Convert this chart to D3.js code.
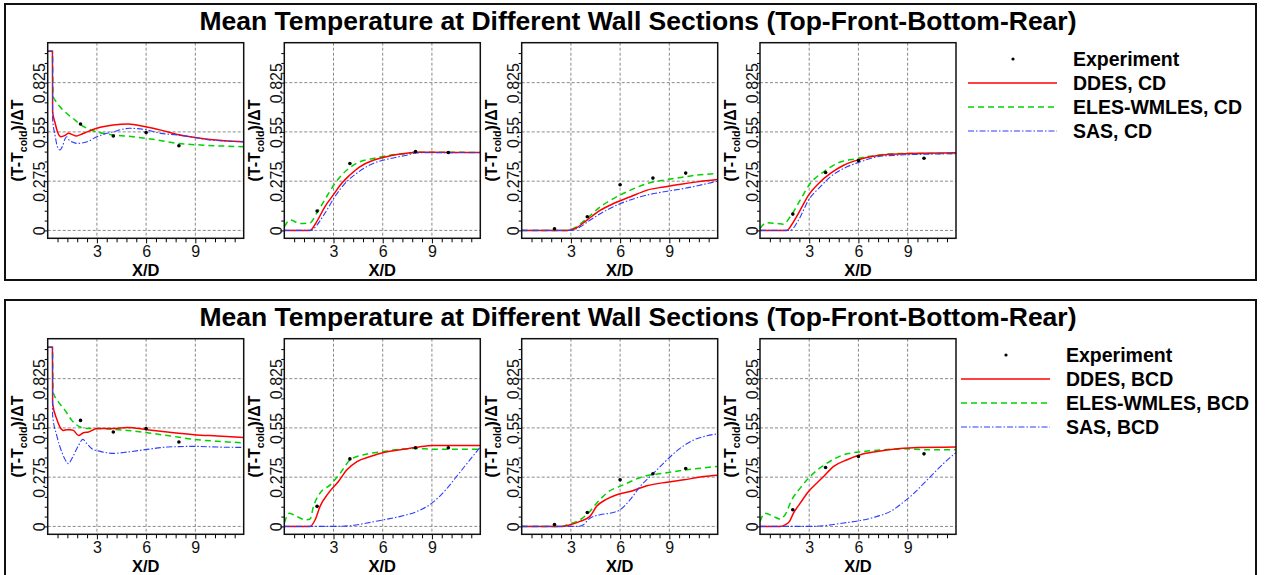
<!DOCTYPE html>
<html>
<head>
<meta charset="utf-8">
<title>Mean Temperature at Different Wall Sections</title>
<script src="https://cdn.jsdelivr.net/npm/d3@7"></script>
<style>
  body { margin: 0; background: #fff; }
  svg { font-family: "Liberation Sans", Arial, sans-serif; }
</style>
</head>
<body>
<script>
// ---- data (x = X/D, v = (T-Tcold)/dT) ----
// CD case
var cdTopExp = [[2,0.594],[4,0.527],[6,0.546],[8,0.473]];
var cdTopDdes = [[0,1.0],[0.29,1.0],[0.3,0.66],[0.45,0.6],[0.6,0.55],[0.82,0.523],[1.05,0.53],[1.27,0.542],[1.5,0.535],[1.73,0.527],[2.0,0.535],[2.4,0.55],[3,0.57],[4,0.588],[4.9,0.594],[5.9,0.58],[6.9,0.56],[7.9,0.536],[8.9,0.52],[9.9,0.508],[11.95,0.495]];
var cdTopEles = [[0,1.0],[0.29,1.0],[0.33,0.75],[0.5,0.72],[0.75,0.69],[1.2,0.65],[1.67,0.616],[2.0,0.59],[2.4,0.57],[3,0.55],[4,0.533],[5.2,0.523],[6.7,0.505],[7.9,0.486],[9.3,0.477],[11.95,0.467]];
var cdTopSas = [[0,1.0],[0.29,1.0],[0.3,0.62],[0.45,0.53],[0.6,0.465],[0.75,0.449],[0.9,0.47],[1.05,0.51],[1.16,0.523],[1.3,0.505],[1.47,0.495],[1.78,0.486],[2.1,0.488],[2.4,0.495],[3,0.523],[4,0.551],[5,0.57],[5.9,0.564],[6.9,0.542],[7.9,0.533],[8.9,0.52],[9.9,0.505],[11.95,0.495]];

var cdFrontExp = [[2,0.108],[4,0.374],[8,0.44],[10,0.435]];
var cdFrontDdes = [[0,0],[1.57,0],[1.97,0.048],[2.47,0.132],[2.98,0.197],[3.49,0.262],[4.0,0.309],[4.6,0.355],[5.42,0.392],[6.03,0.407],[7.04,0.426],[8.05,0.437],[9,0.436],[11.95,0.435]];
var cdFrontEles = [[0,0.02],[0.35,0.058],[0.96,0.039],[1.57,0.043],[1.97,0.095],[2.58,0.188],[3.08,0.262],[3.8,0.336],[4.6,0.383],[5.42,0.401],[6.43,0.42],[7.45,0.429],[8.05,0.437],[11.95,0.435]];
var cdFrontSas = [[0,0],[1.67,0],[1.8,0.01],[2.47,0.095],[3.08,0.188],[3.7,0.262],[4.4,0.318],[5.42,0.374],[6.43,0.401],[7.45,0.42],[8.05,0.433],[11.95,0.435]];

var cdBottomExp = [[2,0.009],[4,0.076],[6,0.255],[8,0.292],[10,0.32]];
var cdBottomDdes = [[0,0],[2.76,0],[3.27,0.011],[3.98,0.058],[4.8,0.113],[5.6,0.15],[6.63,0.188],[7.65,0.225],[8.67,0.243],[9.7,0.258],[10.7,0.271],[11.95,0.284]];
var cdBottomEles = [[0,0],[2.76,0],[3.27,0.017],[3.98,0.067],[4.8,0.132],[5.6,0.178],[6.63,0.225],[7.65,0.262],[8.67,0.281],[9.7,0.296],[10.7,0.309],[11.95,0.318]];
var cdBottomSas = [[0,0],[2.96,0],[3.57,0.02],[4.18,0.058],[5,0.104],[6.02,0.15],[7.24,0.188],[8.67,0.216],[9.9,0.234],[11.33,0.262],[11.95,0.275]];

var cdRearExp = [[2,0.091],[4,0.323],[6,0.39],[10,0.403]];
var cdRearDdes = [[0,0],[1.63,0],[2.04,0.048],[2.45,0.113],[2.96,0.197],[3.57,0.262],[4.29,0.318],[5.1,0.364],[5.92,0.392],[6.73,0.411],[7.76,0.424],[8.98,0.429],[11.95,0.433]];
var cdRearEles = [[0,0.011],[0.41,0.043],[1.02,0.039],[1.43,0.035],[1.84,0.076],[2.45,0.169],[3.06,0.262],[3.88,0.327],[4.69,0.374],[5.92,0.401],[7.14,0.42],[8.37,0.429],[11.95,0.429]];
var cdRearSas = [[0,0],[1.84,0],[2.35,0.058],[2.96,0.169],[3.67,0.243],[4.29,0.299],[5.3,0.355],[6.12,0.383],[7.14,0.411],[8.37,0.42],[10.4,0.426],[11.95,0.429]];

// BCD case
var bcdTopExp = [[2,0.592],[4,0.527],[6,0.546],[8,0.471]];
var bcdTopDdes = [[0,1.0],[0.29,1.0],[0.3,0.685],[0.55,0.6],[0.75,0.555],[0.96,0.536],[1.17,0.54],[1.37,0.54],[1.57,0.536],[1.88,0.508],[2.18,0.523],[2.49,0.527],[3,0.546],[4,0.546],[4.84,0.552],[6.06,0.54],[7.29,0.527],[8.92,0.512],[10.35,0.505],[11.95,0.497]];
var bcdTopEles = [[0,1.0],[0.29,1.0],[0.33,0.75],[0.65,0.695],[1.06,0.648],[1.47,0.592],[1.98,0.555],[2.39,0.546],[3,0.546],[4,0.542],[4.84,0.536],[6.06,0.523],[7.49,0.505],[8.92,0.486],[10.35,0.475],[11.95,0.467]];
var bcdTopSas = [[0,1.0],[0.29,1.0],[0.3,0.62],[0.55,0.508],[0.86,0.415],[1.16,0.359],[1.27,0.35],[1.47,0.378],[1.88,0.452],[2.14,0.486],[2.39,0.462],[2.69,0.434],[3.2,0.419],[4.02,0.408],[4.84,0.415],[6.06,0.43],[7.29,0.443],[8.92,0.447],[10.35,0.443],[11.95,0.441]];

var bcdFrontExp = [[2,0.112],[4,0.377],[8,0.439],[10,0.439]];
var bcdFrontDdes = [[0,0],[1.57,0],[1.88,0.037],[2.18,0.112],[2.69,0.186],[3.3,0.251],[3.82,0.316],[4.43,0.362],[5.24,0.39],[6.06,0.413],[7.08,0.428],[8.1,0.442],[9.02,0.452],[11.95,0.452]];
var bcdFrontEles = [[0,0.019],[0.31,0.074],[0.76,0.056],[1.27,0.037],[1.57,0.041],[1.78,0.112],[2.18,0.186],[2.8,0.232],[3.41,0.297],[4.02,0.372],[4.84,0.4],[6.06,0.418],[7.08,0.431],[8.1,0.435],[9.02,0.431],[11.95,0.431]];
var bcdFrontSas = [[0,0],[3,0],[4.02,0.004],[5.04,0.019],[6.06,0.037],[7.08,0.056],[8.1,0.084],[9.0,0.13],[9.8,0.2],[10.6,0.29],[11.3,0.37],[11.95,0.444]];

var bcdBottomExp = [[2,0.011],[4,0.078],[6,0.26],[8,0.294],[10,0.323]];
var bcdBottomDdes = [[0,0],[2.43,0],[2.94,0.009],[3.55,0.028],[4.16,0.056],[4.57,0.112],[5.18,0.152],[5.8,0.177],[6.61,0.195],[7.63,0.227],[8.86,0.247],[9.88,0.26],[11.1,0.279],[11.95,0.286]];
var bcdBottomEles = [[0,0],[2.43,0],[2.94,0.015],[3.55,0.037],[4.06,0.074],[4.57,0.13],[5.18,0.186],[6.2,0.232],[7.43,0.279],[8.65,0.297],[10.08,0.316],[11.95,0.335]];
var bcdBottomSas = [[0,0],[3.45,0],[3.76,0.009],[4.16,0.046],[4.78,0.065],[5.39,0.074],[6.0,0.093],[6.61,0.149],[7.22,0.223],[8.04,0.297],[8.86,0.372],[9.67,0.437],[10.49,0.483],[11.3,0.506],[11.95,0.517]];

var bcdRearExp = [[2,0.093],[4,0.329],[6,0.39],[10,0.405]];
var bcdRearDdes = [[0,0],[1.22,0],[1.53,0.009],[1.8,0.028],[2.04,0.074],[2.45,0.13],[2.96,0.195],[3.47,0.242],[3.88,0.279],[4.49,0.335],[5.31,0.372],[6.12,0.4],[7.14,0.418],[8.37,0.433],[9.59,0.441],[11.95,0.443]];
var bcdRearEles = [[0,0.028],[0.31,0.074],[0.82,0.056],[1.22,0.041],[1.53,0.065],[1.94,0.149],[2.45,0.214],[3.06,0.279],[4.08,0.353],[5.1,0.4],[6.33,0.418],[7.55,0.428],[8.78,0.433],[10.2,0.428],[11.95,0.428]];
var bcdRearSas = [[0,0],[3.06,0],[4.08,0.006],[5.1,0.019],[6.12,0.033],[7.14,0.056],[7.96,0.084],[8.67,0.13],[9.29,0.177],[10.0,0.242],[10.8,0.316],[11.43,0.372],[11.95,0.412]];

// labels and ticks
var chartTitle = "Mean Temperature at Different Wall Sections (Top-Front-Bottom-Rear)";
var cdNames = ["Experiment", "DDES, CD", "ELES-WMLES, CD", "SAS, CD"];
var bcdNames = ["Experiment", "DDES, BCD", "ELES-WMLES, BCD", "SAS, BCD"];
var xTicks = [3, 6, 9];
var yTicks = [0, 0.275, 0.55, 0.825];
var yTickLabels = ["0", "0.275", "0.55", "0.825"];

// panels: [exp, ddes, eles, sas] for Top, Front, Bottom, Rear
var cdPanels = [
  [cdTopExp, cdTopDdes, cdTopEles, cdTopSas],
  [cdFrontExp, cdFrontDdes, cdFrontEles, cdFrontSas],
  [cdBottomExp, cdBottomDdes, cdBottomEles, cdBottomSas],
  [cdRearExp, cdRearDdes, cdRearEles, cdRearSas]
];
var bcdPanels = [
  [bcdTopExp, bcdTopDdes, bcdTopEles, bcdTopSas],
  [bcdFrontExp, bcdFrontDdes, bcdFrontEles, bcdFrontSas],
  [bcdBottomExp, bcdBottomDdes, bcdBottomEles, bcdBottomSas],
  [bcdRearExp, bcdRearDdes, bcdRearEles, bcdRearSas]
];

// ---- layout ----
var W = 1266, H = 575;
var plotW = 196, plotH = 195.6;
var plotLefts = [47.7, 284.3, 521.7, 760];
var plotTop = 42.7;
var styles = [
  null,
  {color: "#ff0000", width: 1.5, dash: null},
  {color: "#00d400", width: 1.5, dash: "6,4"},
  {color: "#2e3dff", width: 1.1, dash: "6,2,1.5,2"}
];

var svg = d3.select("body").append("svg")
    .attr("width", W)
    .attr("height", H);

var x = d3.scaleLinear().domain([0, 11.95]).range([0, plotW]);
var y = d3.scaleLinear().domain([-0.044, 1.048]).range([plotH, 0]);

var line = d3.line()
    .x(function(d) { return x(d[0]); })
    .y(function(d) { return y(d[1]); })
    .curve(d3.curveMonotoneX);

function drawSection(offsetY, panels, names, id) {
  var sec = svg.append("g").attr("transform", "translate(0," + offsetY + ")");

  // outer frame
  sec.append("rect")
      .attr("x", 5).attr("y", 4)
      .attr("width", 1251).attr("height", offsetY > 0 ? 300 : 276)
      .attr("fill", "none").attr("stroke", "#111").attr("stroke-width", 2);

  sec.append("text")
      .attr("x", 638).attr("y", 30)
      .attr("text-anchor", "middle")
      .attr("font-size", 26.5).attr("font-weight", "bold")
      .text(chartTitle);

  panels.forEach(function(p, i) {
    var g = sec.append("g").attr("transform", "translate(" + plotLefts[i] + "," + plotTop + ")");
    var clipId = "clip-" + id + "-" + i;
    g.append("clipPath").attr("id", clipId)
      .append("rect").attr("width", plotW).attr("height", plotH);

    // grid
    g.selectAll(".gx").data(xTicks).enter().append("line")
        .attr("x1", function(d) { return x(d); }).attr("x2", function(d) { return x(d); })
        .attr("y1", 0).attr("y2", plotH)
        .attr("stroke", "#8a8a8a").attr("stroke-dasharray", "3,2");
    g.selectAll(".gy").data(yTicks).enter().append("line")
        .attr("x1", 0).attr("x2", plotW)
        .attr("y1", function(d) { return y(d); }).attr("y2", function(d) { return y(d); })
        .attr("stroke", "#8a8a8a").attr("stroke-dasharray", "3,2");

    // axes
    var xMinor = d3.range(0.6, 11.9, 0.6).filter(function(v) { return Math.abs(v / 3 - Math.round(v / 3)) > 0.01; });
    g.append("g").attr("transform", "translate(0," + plotH + ")")
        .call(d3.axisBottom(x).tickValues(xMinor).tickSize(4).tickFormat(""))
        .call(function(a) { a.select(".domain").remove(); });
    var xa = g.append("g").attr("transform", "translate(0," + plotH + ")")
        .call(d3.axisBottom(x).tickValues(xTicks).tickSize(5).tickPadding(2));
    xa.select(".domain").remove();
    xa.selectAll("text").attr("font-size", 16).attr("font-family", "Liberation Sans, Arial, sans-serif").attr("fill", "#111");

    var yMinor = d3.range(0.055, 1.04, 0.055).filter(function(v) { return Math.abs(v / 0.275 - Math.round(v / 0.275)) > 0.01; });
    g.append("g")
        .call(d3.axisLeft(y).tickValues(yMinor).tickSize(3).tickFormat(""))
        .call(function(a) { a.select(".domain").remove(); });
    var ya = g.append("g")
        .call(d3.axisLeft(y).tickValues(yTicks).tickSize(4).tickFormat(function(d, k) { return yTickLabels[k]; }));
    ya.select(".domain").remove();
    ya.selectAll("text")
        .attr("font-size", 16).attr("font-family", "Liberation Sans, Arial, sans-serif").attr("fill", "#111")
        .attr("text-anchor", "middle")
        .attr("x", 0).attr("dy", 0)
        .attr("transform", "translate(-2.5,0) rotate(-90)");

    // curves
    var cg = g.append("g").attr("clip-path", "url(#" + clipId + ")");
    [2, 1, 3].forEach(function(k) {
      cg.append("path")
          .datum(p[k])
          .attr("d", line)
          .attr("fill", "none")
          .attr("stroke", styles[k].color)
          .attr("stroke-width", styles[k].width)
          .attr("stroke-dasharray", styles[k].dash);
    });
    cg.selectAll(".exp").data(p[0]).enter().append("circle")
        .attr("cx", function(d) { return x(d[0]); })
        .attr("cy", function(d) { return y(d[1]); })
        .attr("r", 1.8).attr("fill", "#000");

    // plot frame
    g.append("rect").attr("width", plotW).attr("height", plotH)
        .attr("fill", "none").attr("stroke", "#111").attr("stroke-width", 1.5);

    // axis titles
    g.append("text")
        .attr("x", plotW / 2).attr("y", 233)
        .attr("text-anchor", "middle")
        .attr("font-size", 16.5).attr("font-weight", "bold")
        .text("X/D");
    var yt = g.append("text")
        .attr("transform", "translate(" + (-24.5) + "," + (plotH / 2) + ") rotate(-90)")
        .attr("text-anchor", "middle")
        .attr("font-size", 16).attr("font-weight", "bold");
    yt.append("tspan").text("(T-T");
    yt.append("tspan").attr("font-size", 10.5).attr("dy", 4).text("cold");
    yt.append("tspan").attr("dy", -4).text(")/\u0394T");
  });

  // legend
  var lx = offsetY > 0 ? 961 : 968;
  var lg = sec.append("g").attr("transform", "translate(" + lx + ",59)");
  names.forEach(function(n, k) {
    var ry = k * 24;
    if (k === 0) {
      lg.append("circle").attr("cx", 45).attr("cy", ry).attr("r", 1.6).attr("fill", "#000");
    } else {
      lg.append("line")
          .attr("x1", 0).attr("x2", 89).attr("y1", ry).attr("y2", ry)
          .attr("stroke", styles[k].color)
          .attr("stroke-width", styles[k].width)
          .attr("stroke-dasharray", styles[k].dash);
    }
    lg.append("text")
        .attr("x", 105).attr("y", ry + 7)
        .attr("font-size", 19.5).attr("font-weight", "bold")
        .text(n);
  });
}

drawSection(0, cdPanels, cdNames, "cd");
drawSection(296, bcdPanels, bcdNames, "bcd");
</script>
</body>
</html>
